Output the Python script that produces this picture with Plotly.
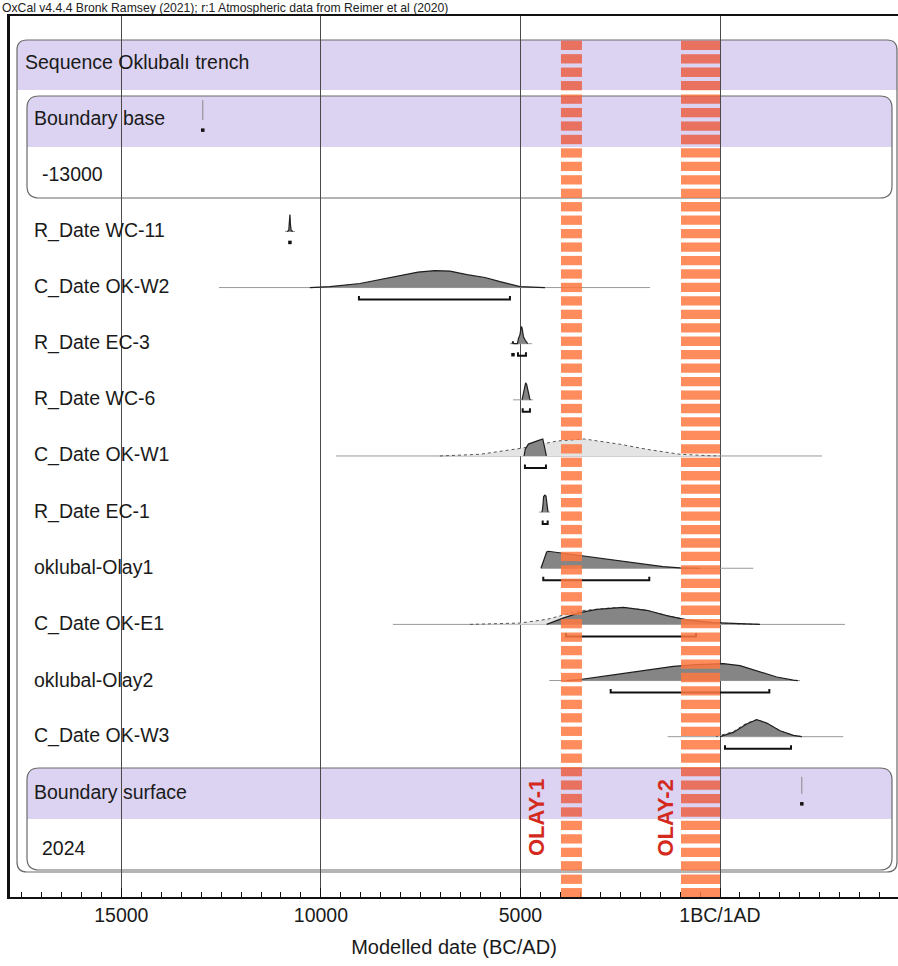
import plotly.graph_objects as go

# ---------------- data ----------------
row_labels = ["Sequence Oklubalı trench", "Boundary base", "-13000", "R_Date WC-11",
              "C_Date OK-W2", "R_Date EC-3", "R_Date WC-6", "C_Date OK-W1",
              "R_Date EC-1", "oklubal-Olay1", "C_Date OK-E1", "oklubal-Olay2",
              "C_Date OK-W3", "Boundary surface", "2024"]

tick_vals = [-15000, -10000, -5000, 0]
tick_text = ["15000", "10000", "5000", "1BC/1AD"]
x_range = [-17790, 4460]

header_text = "OxCal v4.4.4 Bronk Ramsey (2021); r:1 Atmospheric data from Reimer et al (2020)"
x_title = "Modelled date (BC/AD)"

# boundaries (year of spike)
boundary_base_year = -12960
boundary_surface_year = 2050

# posterior / prior probability shapes (calendar year, relative height)
wc11_year = [-10850, -10805, -10790, -10776, -10765, -10745, -10700]
wc11_prob = [0, 0.06, 0.55, 1.0, 0.45, 0.05, 0]

okw2_year = [-10275, -9773, -9022, -8520, -8019, -7568, -7142, -6766, -6340, -5889, -5513, -5012, -4386]
okw2_prob = [0, 0.06, 0.24, 0.47, 0.70, 0.91, 1.0, 0.97, 0.76, 0.59, 0.35, 0.06, 0]

ec3_year = [-5210, -5187, -5170, -5075, -5050, -5010, -4985, -4970, -4950, -4925, -4880, -4840, -4820]
ec3_prob = [0, 0.15, 0, 0, 0.3, 0.55, 0.95, 1.0, 0.8, 0.4, 0.2, 0.05, 0]

wc6_year = [-4960, -4935, -4900, -4870, -4845, -4820, -4790, -4765, -4750]
wc6_prob = [0, 0.3, 0.75, 1.0, 0.9, 0.6, 0.3, 0.05, 0]

okw1_prior_year = [-7017, -6014, -4937, -4085, -3400, -2506, -1829, -1002, -326, 0]
okw1_prior_prob = [0, 0.10, 0.47, 0.88, 1.0, 0.69, 0.39, 0.10, 0.02, 0]
okw1_year = [-4910, -4880, -4800, -4700, -4560, -4440, -4400, -4350]
okw1_prob = [0, 0.4, 0.7, 0.8, 0.9, 1.0, 0.6, 0]

ec1_year = [-4460, -4440, -4420, -4390, -4360, -4330, -4310]
ec1_prob = [0, 0.3, 0.9, 1.0, 0.95, 0.5, 0]

olay1_year = [-4486, -4428, -4343, -4303, -3508, -2681, -2005, -1428, -1002, -501]
olay1_prob = [0, 0.4, 0.96, 1.0, 0.75, 0.45, 0.25, 0.10, 0.02, 0]

oke1_prior_year = [-6265, -5012, -4336, -3508, -2681, -2431, -1837, -1336, -834, -168, 501, 1002]
oke1_prior_prob = [0, 0.08, 0.30, 0.80, 0.98, 1.0, 0.83, 0.52, 0.27, 0.10, 0.02, 0]
oke1_year = [-4343, -3935, -3508, -3082, -2423, -1837, -1336, -834, -168, 501, 1002]
oke1_prob = [0, 0.37, 0.69, 0.88, 1.0, 0.83, 0.52, 0.27, 0.10, 0.02, 0]

olay2_year = [-3842, -3508, -2673, -1837, -1170, -584, 83, 501, 1002, 1421, 1837, 1950]
olay2_prob = [0, 0.06, 0.33, 0.63, 0.83, 0.94, 1.0, 0.88, 0.54, 0.21, 0.02, 0]

okw3_prior_year = [-100, 333, 669, 920, 1170, 1504, 1837, 2047]
okw3_prior_prob = [0, 0.30, 0.80, 1.0, 0.8, 0.35, 0.08, 0]
okw3_year = [0, 333, 669, 920, 1170, 1504, 1837, 2047]
okw3_prob = [0, 0.25, 0.75, 1.0, 0.8, 0.35, 0.08, 0]

# horizontal extent of each distribution's baseline (years)
extent_wc11 = [-10900, -10650]
extent_okw2 = [-12555, -1754]
extent_ec3 = [-5262, -4711]
extent_wc6 = [-5187, -4686]
extent_okw1 = [-9623, 2556]
extent_ec1 = [-4536, -4261]
extent_olay1 = [-4486, 834]
extent_oke1 = [-8195, 3133]
extent_olay2 = [-4278, 2005]
extent_okw3 = [-1311, 3090]

# highest posterior density ranges (years)
range_okw2 = [[-9047, -5263]]
range_ec3 = [[-5062, -4862]]
range_wc6 = [[-4944, -4762]]
range_okw1 = [[-4887, -4361]]
range_ec1 = [[-4443, -4318]]
range_olay1 = [[-4428, -1772]]
range_oke1 = [[-3859, -601]]
range_olay2 = [[-2739, 1236]]
range_okw3 = [[125, 1779]]
range_dots = {"Boundary base": [-12960], "R_Date WC-11": [-10776],
              "R_Date EC-3": [-5187], "Boundary surface": [2050]}

# events (orange dashed bands)
event_names = ["OLAY-1", "OLAY-2"]
event_start = [-3985, -977]
event_end = [-3459, 0]
event_label_year = [-4610, -1390]

samples = [
    ("R_Date WC-11", extent_wc11, None, (wc11_year, wc11_prob), []),
    ("C_Date OK-W2", extent_okw2, None, (okw2_year, okw2_prob), range_okw2),
    ("R_Date EC-3", extent_ec3, None, (ec3_year, ec3_prob), range_ec3),
    ("R_Date WC-6", extent_wc6, None, (wc6_year, wc6_prob), range_wc6),
    ("C_Date OK-W1", extent_okw1, (okw1_prior_year, okw1_prior_prob), (okw1_year, okw1_prob), range_okw1),
    ("R_Date EC-1", extent_ec1, None, (ec1_year, ec1_prob), range_ec1),
    ("oklubal-Olay1", extent_olay1, None, (olay1_year, olay1_prob), range_olay1),
    ("C_Date OK-E1", extent_oke1, (oke1_prior_year, oke1_prior_prob), (oke1_year, oke1_prob), range_oke1),
    ("oklubal-Olay2", extent_olay2, None, (olay2_year, olay2_prob), range_olay2),
    ("C_Date OK-W3", extent_okw3, (okw3_prior_year, okw3_prior_prob), (okw3_year, okw3_prob), range_okw3),
]

# ---------------- layout geometry ----------------
W, H = 898, 966
ML, MR, MT, MB = 10, 0, 16, 69
PLOT_W = W - ML - MR
PLOT_H = H - MT - MB
ROW0_PX = 62.0        # pixel centre of first row
ROW_PX = 56.14        # pixels per row
Y_TOP = (MT - ROW0_PX) / ROW_PX
Y_BOT = (MT + PLOT_H - ROW0_PX) / ROW_PX
YEARS_PER_PX = (x_range[1] - x_range[0]) / PLOT_W


def px_x(p):   # page pixel x -> year
    return x_range[0] + (p - ML) * YEARS_PER_PX


def px_y(p):   # page pixel y -> row coordinate
    return (p - ROW0_PX) / ROW_PX


def dy(p):     # pixel offset -> row offset
    return p / ROW_PX


PEAK_PX = 17
BASE_OFF = 1
RANGE_OFF = 13

FONT = "Liberation Sans, Arial, Helvetica, sans-serif"
PURPLE = "#DBD3F1"
BOX_LINE = "#6a6a6a"

fig = go.Figure()

# -------- traces: baselines, priors, posteriors, ranges --------
bx, by = [], []
prx, pry = [], []
pox, poy = [], []
rx, ry = [], []
for name, ext, prior, post, rngs in samples:
    r = row_labels.index(name)
    base = r + dy(BASE_OFF)
    bx += [ext[0], ext[1], None]
    by += [base, base, None]
    if prior is not None:
        prx += list(prior[0]) + [None]
        pry += [base - h * dy(PEAK_PX) for h in prior[1]] + [None]
    pox += list(post[0]) + [None]
    poy += [base - h * dy(PEAK_PX) for h in post[1]] + [None]
    ry0 = r + dy(RANGE_OFF)
    for a, b in rngs:
        rx += [a, a, b, b, None]
        ry += [ry0 - dy(3.5), ry0, ry0, ry0 - dy(3.5), None]

fig.add_trace(go.Scatter(x=bx, y=by, mode="lines", line=dict(color="#9a9a9a", width=1),
                         hoverinfo="skip", showlegend=False))
fig.add_trace(go.Scatter(x=prx, y=pry, mode="lines", fill="toself", fillcolor="#e4e4e4",
                         line=dict(color="#555555", width=1, dash="dot"),
                         hoverinfo="skip", showlegend=False))
fig.add_trace(go.Scatter(x=pox, y=poy, mode="lines", fill="toself", fillcolor="#858585",
                         line=dict(color="#1e1e1e", width=1.2),
                         hoverinfo="skip", showlegend=False))
fig.add_trace(go.Scatter(x=rx, y=ry, mode="lines", line=dict(color="#111111", width=2),
                         hoverinfo="skip", showlegend=False))

# boundary spikes
sx, sy = [], []
for name, yr, hpx in [("Boundary base", boundary_base_year, 20),
                      ("Boundary surface", boundary_surface_year, 17)]:
    r = row_labels.index(name)
    base = r + dy(2)
    sx += [yr, yr, None]
    sy += [base, base - dy(hpx), None]
fig.add_trace(go.Scatter(x=sx, y=sy, mode="lines", line=dict(color="#888888", width=1),
                         hoverinfo="skip", showlegend=False))

dx_, dy_ = [], []
for name, yrs in range_dots.items():
    r = row_labels.index(name)
    for yv in yrs:
        dx_.append(yv)
        dy_.append(r + dy(RANGE_OFF - 1))
fig.add_trace(go.Scatter(x=dx_, y=dy_, mode="markers",
                         marker=dict(symbol="square", size=3.5, color="#111111"),
                         hoverinfo="skip", showlegend=False))

# -------- shapes: boxes --------
shapes = []


def rounded(x0p, x1p, y0p, y1p, rad, top=True, bottom=True):
    x0, x1 = px_x(x0p), px_x(x1p)
    y0, y1 = px_y(y0p), px_y(y1p)
    rx_, ry_ = rad * YEARS_PER_PX, dy(rad)
    p = []
    if top:
        p.append(f"M {x0},{y0 + ry_} Q {x0},{y0} {x0 + rx_},{y0} L {x1 - rx_},{y0} Q {x1},{y0} {x1},{y0 + ry_}")
    else:
        p.append(f"M {x0},{y0} L {x1},{y0}")
    if bottom:
        p.append(f"L {x1},{y1 - ry_} Q {x1},{y1} {x1 - rx_},{y1} L {x0 + rx_},{y1} Q {x0},{y1} {x0},{y1 - ry_} Z")
    else:
        p.append(f"L {x1},{y1} L {x0},{y1} Z")
    return " ".join(p)


# outer sequence box
shapes.append(dict(type="path", path=rounded(17, 897, 40, 90, 10, True, False),
                   fillcolor=PURPLE, line=dict(width=0), layer="below"))
shapes.append(dict(type="path", path=rounded(17, 897, 40, 872, 10),
                   fillcolor="rgba(0,0,0,0)", line=dict(color=BOX_LINE, width=1.2), layer="below"))
# boundary boxes
for top_px, bot_px in [(96, 198), (768, 870)]:
    shapes.append(dict(type="path", path=rounded(27, 892, top_px, top_px + 51, 12, True, False),
                       fillcolor=PURPLE, line=dict(width=0), layer="below"))
    shapes.append(dict(type="path", path=rounded(27, 892, top_px, bot_px, 12),
                       fillcolor="rgba(0,0,0,0)", line=dict(color=BOX_LINE, width=1.2), layer="below"))

# -------- orange dashed event bands --------
purple_zones = [(40, 90), (96, 147), (768, 820)]
BAND_TOP, BAND_BOT = 40.7, 897
PERIOD, DASH = 13.45, 9.3
for s, e in zip(event_start, event_end):
    y = BAND_TOP
    while y < BAND_BOT:
        y0, y1 = y, min(y + DASH, BAND_BOT)
        cuts = sorted(set([y0, y1] + [v for z in purple_zones for v in z if y0 < v < y1]))
        for a, b in zip(cuts[:-1], cuts[1:]):
            mid = (a + b) / 2
            inside = any(z0 <= mid <= z1 for z0, z1 in purple_zones)
            col = "rgba(234,95,69,0.85)" if inside else "rgba(255,120,63,0.85)"
            shapes.append(dict(type="rect", x0=s, x1=e, y0=px_y(a), y1=px_y(b),
                               fillcolor=col, line=dict(width=0), layer="above"))
        y += PERIOD

# -------- annotations --------
ann = []
for lab in row_labels:
    r = row_labels.index(lab)
    if lab.startswith("Sequence"):
        xs = 13
    elif lab in ("-13000", "2024"):
        xs = 30
    else:
        xs = 22
    ann.append(dict(text=lab, x=0, xref="paper", xshift=xs, xanchor="left",
                    y=r, yref="y", yanchor="middle", showarrow=False,
                    font=dict(family=FONT, size=19.5, color="#1a1a1a")))

for name, yr in zip(event_names, event_label_year):
    ann.append(dict(text=name, x=yr, xref="x", y=px_y(818), yref="y", textangle=-90,
                    showarrow=False, xanchor="center", yanchor="middle",
                    font=dict(family=FONT, size=22, color="#D42A1E", weight="bold")))

ann.append(dict(text=header_text, x=0, xref="paper", xshift=-ML, xanchor="left",
                y=1, yref="paper", yanchor="bottom", yshift=-1, showarrow=False,
                font=dict(family=FONT, size=12.2, color="#222222")))

fig.update_layout(
    width=W, height=H, autosize=False,
    margin=dict(l=ML, r=MR, t=MT, b=MB, pad=0),
    paper_bgcolor="white", plot_bgcolor="white",
    shapes=shapes, annotations=ann, showlegend=False,
    xaxis=dict(range=x_range, tickmode="array", tickvals=tick_vals, ticktext=tick_text,
               ticks="inside", ticklen=9, tickwidth=1, tickcolor="#111",
               showgrid=True, gridcolor="#4a4a4a", gridwidth=1,
               zeroline=True, zerolinecolor="#4a4a4a", zerolinewidth=1,
               showline=True, linecolor="#111", linewidth=2, mirror=True,
               minor=dict(tickmode="linear", tick0=0, dtick=500, ticks="inside",
                          ticklen=5, tickcolor="#111", showgrid=False),
               tickfont=dict(family=FONT, size=19.5, color="#1a1a1a"),
               title=dict(text=x_title, standoff=15,
                          font=dict(family=FONT, size=20, color="#1a1a1a"))),
    yaxis=dict(range=[Y_BOT, Y_TOP], showgrid=False, zeroline=False, showticklabels=False,
               ticks="", showline=True, linecolor="#111", linewidth=3, mirror=False),
)

fig.write_html("out.html", config={"displayModeBar": False},
               post_script="document.body.style.margin='0';")
